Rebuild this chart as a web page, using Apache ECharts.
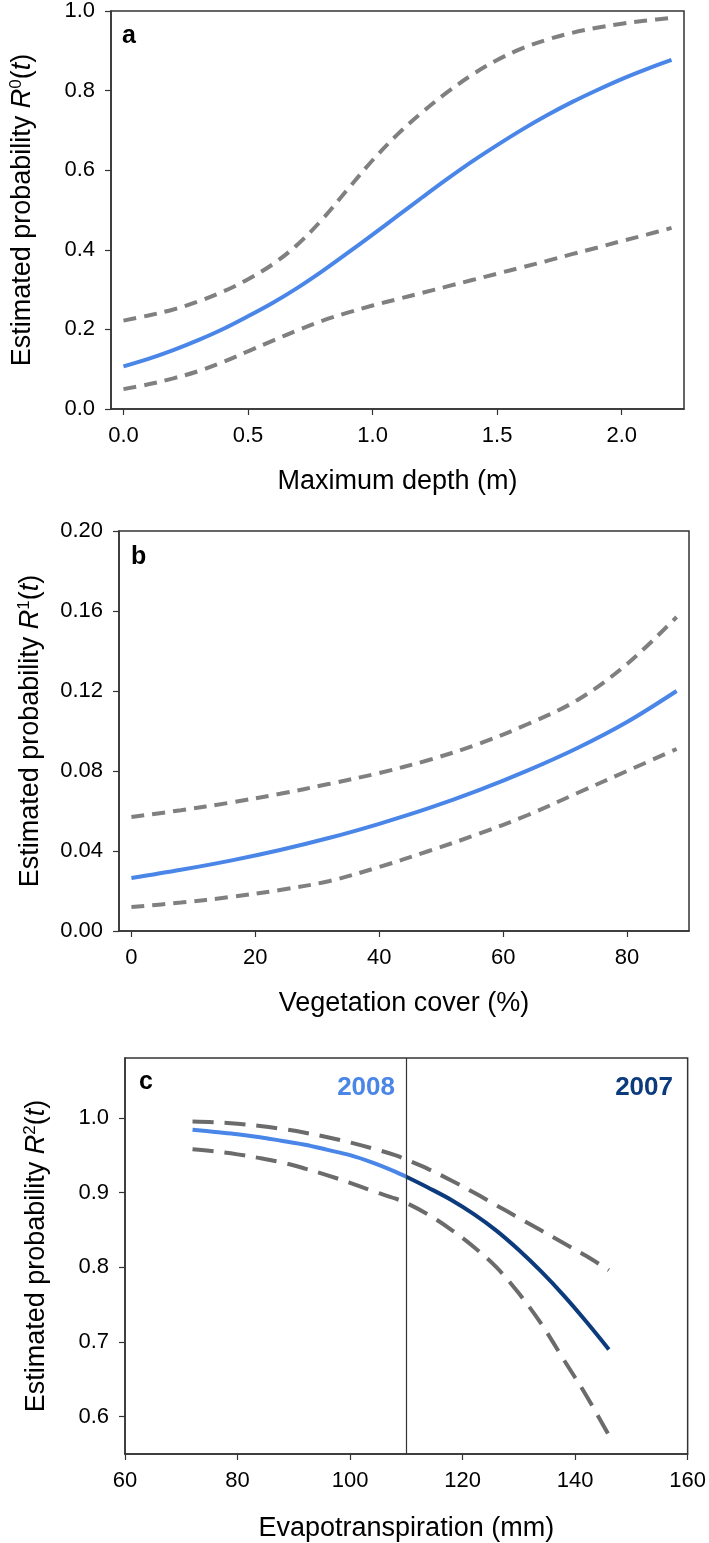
<!DOCTYPE html>
<html>
<head>
<meta charset="utf-8">
<script src="https://cdn.jsdelivr.net/npm/echarts@6/dist/echarts.min.js"></script>
<style>
html,body{margin:0;padding:0;background:#fff;}
#chart{width:709px;height:1543px;}
</style>
</head>
<body>
<div id="chart"></div>
<script>
// ---------- Panel a: Maximum depth ----------
const depthX     = [0,0.1,0.2,0.3,0.4,0.5,0.6,0.7,0.8,0.9,1.0,1.1,1.2,1.3,1.4,1.5,1.6,1.7,1.8,1.9,2.0,2.1,2.2];
const depthMean  = [0.107,0.126,0.148,0.173,0.201,0.233,0.267,0.305,0.347,0.392,0.438,0.485,0.532,0.578,0.622,0.663,0.702,0.738,0.771,0.801,0.829,0.854,0.877];
const depthUpper = [0.222,0.235,0.250,0.270,0.295,0.326,0.364,0.414,0.478,0.552,0.625,0.690,0.746,0.796,0.840,0.877,0.906,0.928,0.945,0.958,0.968,0.976,0.983];
const depthLower = [0.050,0.062,0.077,0.095,0.118,0.145,0.172,0.198,0.222,0.242,0.260,0.276,0.292,0.308,0.324,0.340,0.356,0.372,0.389,0.405,0.422,0.438,0.455];
const depthTicks = [0,0.5,1.0,1.5,2.0];

// ---------- Panel b: Vegetation cover ----------
const vegX     = [0,8,16,24,32,40,48,56,64,72,80,88];
const vegMean  = [0.0265,0.0306,0.0352,0.0405,0.0466,0.0536,0.0614,0.0703,0.0803,0.0915,0.1045,0.1200];
const vegUpper = [0.0570,0.0604,0.0642,0.0686,0.0736,0.0790,0.0855,0.0935,0.1035,0.1155,0.1335,0.1570];
const vegLower = [0.0120,0.0142,0.0170,0.0205,0.0250,0.0320,0.0400,0.0485,0.0580,0.0690,0.0800,0.0910];
const vegTicks = [0,20,40,60,80];

// ---------- Panel c: Evapotranspiration ----------
const etX2008    = [72,76,80,84,88,92,96,100,104,108,110];
const etMean2008 = [0.984,0.981,0.978,0.974,0.969,0.964,0.957,0.950,0.940,0.928,0.921];
const etX2007    = [110,114,118,122,126,130,134,138,142,146];
const etMean2007 = [0.921,0.906,0.890,0.871,0.849,0.823,0.794,0.762,0.727,0.690];
const etXAll     = [72,76,80,84,88,92,96,100,104,108,110,114,118,122,126,130,134,138,142,146];
const etUpper    = [0.995,0.994,0.992,0.989,0.985,0.980,0.974,0.967,0.959,0.950,0.944,0.931,0.916,0.900,0.883,0.866,0.849,0.832,0.815,0.796];
const etLower    = [0.958,0.955,0.951,0.946,0.940,0.932,0.923,0.913,0.902,0.892,0.886,0.870,0.850,0.827,0.800,0.765,0.724,0.676,0.628,0.575];
const etYTicks   = [0.6,0.7,0.8,0.9,1.0];
const yearDivider = 110;
const yearLabels = ['2008','2007'];

const pairs = (xs, ys) => xs.map((x, i) => [x, ys[i]]);

const FONT = "'Liberation Sans', Arial, sans-serif";
const BLUE = '#4a86e8';
const NAVY = '#0b3b7c';
const GRAY = '#808080';
const GRAYC = '#6b6b6b';
const AXC = '#333333';

function yName(sup) {
  return {
    name: 'Estimated probability {i|R}{s|' + sup + '}({i|t})',
    nameLocation: 'middle',
    nameRotate: 90,
    nameGap: 74,
    nameTextStyle: {
      fontFamily: FONT, fontSize: 27, color: '#000',
      rich: {
        i: {fontFamily: FONT, fontSize: 27, fontStyle: 'italic', color: '#000'},
        s: {fontFamily: FONT, fontSize: 17, color: '#000', verticalAlign: 'top', padding: [0, 0, 12, 0]}
      }
    }
  };
}

const axisCommon = {
  axisLine: {show: true, onZero: false, lineStyle: {color: AXC, width: 1.5}},
  axisTick: {show: true, inside: false, length: 6, lineStyle: {color: AXC, width: 1.2}},
  splitLine: {show: false}
};
const labelStyle = {fontFamily: FONT, fontSize: 22, color: '#000', margin: 16};
const xNameStyle = {fontFamily: FONT, fontSize: 27, color: '#000'};

function lineS(xi, yi, data, color, dashed, dashPat) {
  return {
    type: 'line', xAxisIndex: xi, yAxisIndex: yi, data: data,
    showSymbol: false, symbol: 'none', smooth: 0.35, silent: true,
    lineStyle: {color: color, width: 4, type: dashed ? dashPat : 'solid', cap: 'butt'},
    z: dashed ? 2 : 3
  };
}

const option = {
  animation: false,
  backgroundColor: '#fff',
  grid: [
    {left: 111, top: 9, width: 573, height: 400, show: true, borderColor: AXC, borderWidth: 1.5},
    {left: 119, top: 531, width: 570, height: 400, show: true, borderColor: AXC, borderWidth: 1.5},
    {left: 125, top: 1058, width: 565, height: 396, show: true, borderColor: AXC, borderWidth: 1.5}
  ],
  xAxis: [
    Object.assign({}, axisCommon, {
      gridIndex: 0, type: 'value', min: -0.05, max: 2.25,
      name: 'Maximum depth (m)', nameLocation: 'middle', nameGap: 59, nameTextStyle: xNameStyle,
      axisTick: Object.assign({}, axisCommon.axisTick, {customValues: depthTicks}),
      axisLabel: Object.assign({}, labelStyle, {customValues: depthTicks, formatter: v => v.toFixed(1)})
    }),
    Object.assign({}, axisCommon, {
      gridIndex: 1, type: 'value', min: -2, max: 90,
      name: 'Vegetation cover (%)', nameLocation: 'middle', nameGap: 59, nameTextStyle: xNameStyle,
      axisTick: Object.assign({}, axisCommon.axisTick, {customValues: vegTicks}),
      axisLabel: Object.assign({}, labelStyle, {customValues: vegTicks, formatter: v => String(v)})
    }),
    Object.assign({}, axisCommon, {
      gridIndex: 2, type: 'value', min: 60, max: 160, interval: 20,
      name: 'Evapotranspiration (mm)', nameLocation: 'middle', nameGap: 61, nameTextStyle: xNameStyle,
      axisLabel: Object.assign({}, labelStyle, {formatter: v => String(v)})
    })
  ],
  yAxis: [
    Object.assign({}, axisCommon, yName('0'), {
      gridIndex: 0, type: 'value', min: 0, max: 1.0, interval: 0.2,
      axisLabel: Object.assign({}, labelStyle, {formatter: v => v.toFixed(1)})
    }),
    Object.assign({}, axisCommon, yName('1'), {
      gridIndex: 1, type: 'value', min: 0, max: 0.2, interval: 0.04,
      axisLabel: Object.assign({}, labelStyle, {formatter: v => v.toFixed(2)})
    }),
    Object.assign({}, axisCommon, yName('2'), {
      gridIndex: 2, type: 'value', min: 0.55, max: 1.08,
      axisTick: Object.assign({}, axisCommon.axisTick, {customValues: etYTicks}),
      axisLabel: Object.assign({}, labelStyle, {customValues: etYTicks, formatter: v => v.toFixed(1)})
    })
  ],
  series: [
    lineS(0, 0, pairs(depthX, depthUpper), GRAY, true, [13, 8]),
    lineS(0, 0, pairs(depthX, depthLower), GRAY, true, [13, 8]),
    lineS(0, 0, pairs(depthX, depthMean), BLUE, false),
    lineS(1, 1, pairs(vegX, vegUpper), GRAY, true, [13, 8]),
    lineS(1, 1, pairs(vegX, vegLower), GRAY, true, [13, 8]),
    lineS(1, 1, pairs(vegX, vegMean), BLUE, false),
    lineS(2, 2, pairs(etXAll, etUpper), GRAYC, true, [21, 11]),
    lineS(2, 2, pairs(etXAll, etLower), GRAYC, true, [21, 11]),
    lineS(2, 2, pairs(etX2008, etMean2008), BLUE, false),
    Object.assign(lineS(2, 2, pairs(etX2007, etMean2007), NAVY, false), {
      markLine: {
        silent: true, symbol: 'none', label: {show: false},
        lineStyle: {color: '#333', width: 1.2, type: 'solid'},
        data: [{xAxis: yearDivider}]
      }
    })
  ],
  graphic: [
    {type: 'text', left: 122, top: 24, style: {text: 'a', font: 'bold 25px ' + FONT, fill: '#000'}},
    {type: 'text', left: 131, top: 545, style: {text: 'b', font: 'bold 25px ' + FONT, fill: '#000'}},
    {type: 'text', left: 139, top: 1070, style: {text: 'c', font: 'bold 25px ' + FONT, fill: '#000'}},
    {type: 'text', right: 709 - 395, top: 1075, style: {text: yearLabels[0], font: 'bold 26px ' + FONT, fill: BLUE}},
    {type: 'text', right: 709 - 673, top: 1075, style: {text: yearLabels[1], font: 'bold 26px ' + FONT, fill: NAVY}}
  ]
};

const chart = echarts.init(document.getElementById('chart'), null, {renderer: 'canvas'});
chart.setOption(option);
</script>
</body>
</html>
